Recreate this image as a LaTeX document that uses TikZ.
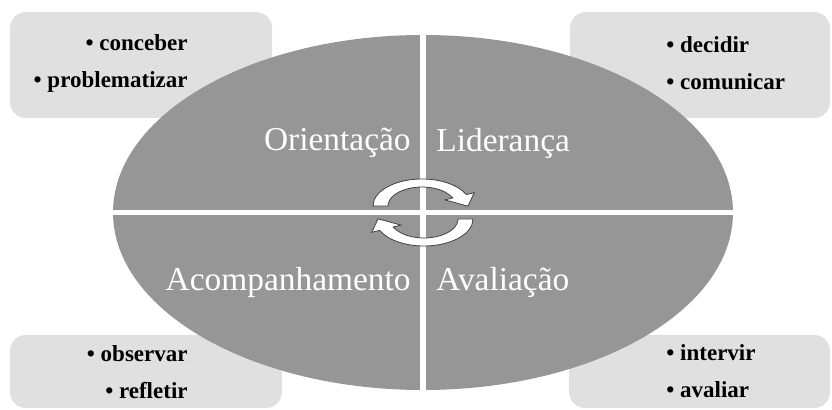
\documentclass[tikz,border=0pt]{standalone}
\usepackage{fontspec}
\setmainfont{Liberation Serif}
\usetikzlibrary{shapes.geometric}
\definecolor{ovalgray}{RGB}{150,150,150}
\definecolor{panelgray}{RGB}{224,224,224}
\begin{document}
\begin{tikzpicture}[x=0.5pt, y=0.5pt,
  panel/.style={fill=panelgray, rounded corners=8pt},
  oval/.style={ellipse, fill=ovalgray, minimum width=310pt, minimum height=177.5pt,
               inner sep=0pt, outer sep=0pt},
  gap/.style={white, line width=2.8pt},
  phase/.style={text=white, font=\fontsize{16.7}{20}\selectfont, inner sep=0pt},
  item/.style={font=\fontsize{11.5}{18.5}\selectfont\bfseries, inner sep=0pt},
  cycarrow/.style={fill=white, draw=black!75, line width=0.4pt}
]
\useasboundingbox (0,0) rectangle (832,-410);

\fill[panel] (10,-12) rectangle (272,-118);
\fill[panel] (570,-12) rectangle (830,-118);
\fill[panel] (10,-335) rectangle (282,-408);
\fill[panel] (569,-335) rectangle (830,-408);

\node[oval] (cycle) at (423,-212.5) {};
\draw[gap] (cycle.west) -- (cycle.east);
\draw[gap] (cycle.north) -- (cycle.south);

\node[phase, anchor=east] (orient) at (411,-143) {Orientação};
\node[phase, anchor=west] (lider) at (436,-143) {Liderança};
\node[phase, anchor=east] (acomp) at (411,-282) {Acompanhamento};
\node[phase, anchor=west] (aval) at (436,-282) {Avaliação};

\node[item, anchor=east, align=right] (tlitems) at (188,-63) {• conceber\\• problematizar};
\node[item, anchor=west, align=left] (tritems) at (666,-63) {• decidir\\• comunicar};
\node[item, anchor=east, align=right] (blitems) at (188,-372) {• observar\\• refletir};
\node[item, anchor=west, align=left] (britems) at (666,-371) {• intervir\\• avaliar};

\draw[cycarrow] (373,-206) arc[start angle=180, end angle=25, x radius=49, y radius=27]
  -- (474.2,-192.7) -- (468,-206.2) -- (445,-199.9) -- (452.8,-198)
  arc[start angle=25, end angle=180, x radius=34, y radius=19] -- cycle;
\draw[cycarrow, rotate around={180:(423,-212.5)}] (373,-206)
  arc[start angle=180, end angle=25, x radius=49, y radius=27]
  -- (474.2,-192.7) -- (468,-206.2) -- (445,-199.9) -- (452.8,-198)
  arc[start angle=25, end angle=180, x radius=34, y radius=19] -- cycle;
\end{tikzpicture}
\end{document}
